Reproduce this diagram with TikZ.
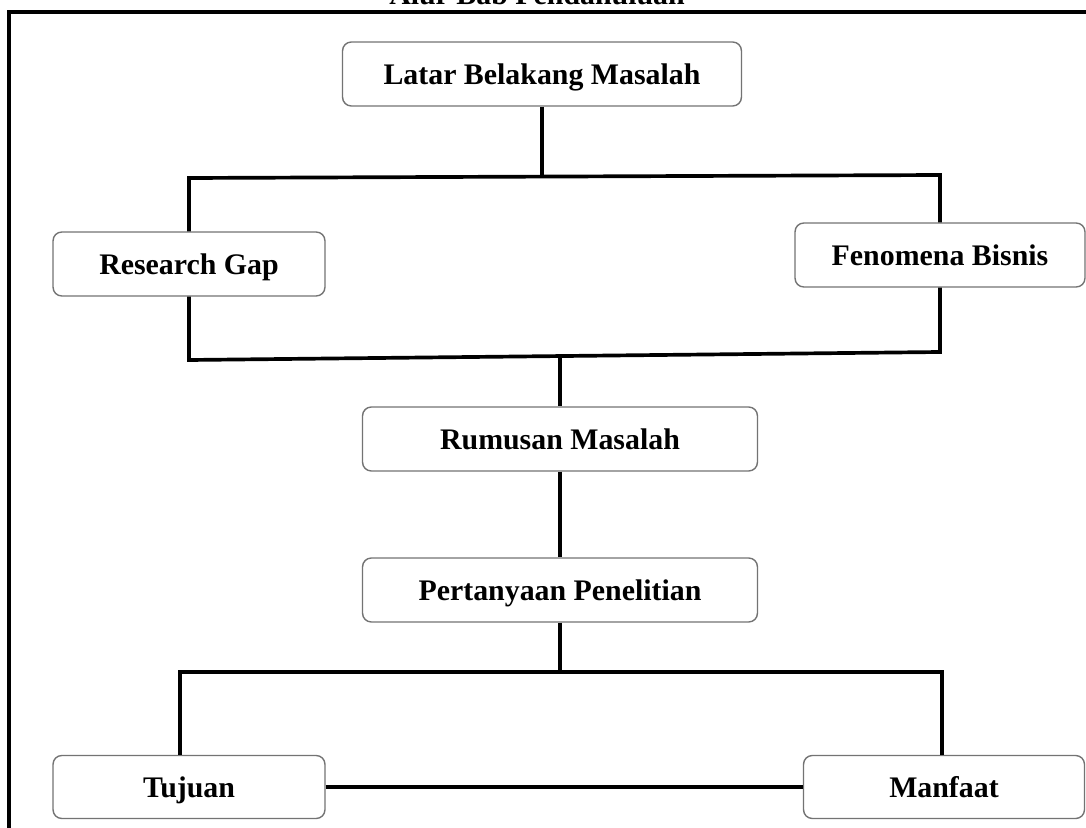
\documentclass[tikz,border=0pt]{standalone}
\usepackage{fontspec}
\setmainfont{Liberation Serif}

\tikzset{
	stage/.style={draw=black!55, line width=0.8pt, rounded corners=5pt, fill=white,
		font=\fontsize{17}{20}\selectfont\bfseries, inner sep=0pt,
		text height=16pt, text depth=3.5pt, minimum height=1.28cm},
	link/.style={line width=2.1pt}
}

\begin{document}
\begin{tikzpicture}[x=0.02cm, y=-0.02cm]
	\useasboundingbox (0, 0) rectangle (1086, 828);

	% frame and title
	\draw[line width=2.1pt] (9, 860) -- (9, 12) -- (1100, 12);
	\node[anchor=base, font=\fontsize{17}{20}\selectfont\bfseries] (title) at (537, 5) {Alur Bab Pendahuluan};

	\node[stage, minimum width=7.98cm] (latar) at (542, 74) {Latar Belakang Masalah};
	\node[stage, minimum width=5.44cm] (gap) at (189, 264) {Research Gap};
	\node[stage, minimum width=5.8cm] (fenomena) at (940, 255) {Fenomena Bisnis};
	\node[stage, minimum width=7.9cm] (rumusan) at (560, 439) {Rumusan Masalah};
	\node[stage, minimum width=7.9cm] (pertanyaan) at (560, 590) {Pertanyaan Penelitian};
	\node[stage, minimum width=5.44cm, minimum height=1.26cm] (tujuan) at (189, 787) {Tujuan};
	\node[stage, minimum width=5.62cm, minimum height=1.26cm] (manfaat) at (944, 787) {Manfaat};

	\coordinate (gapTop) at (189, 178);
	\coordinate (fenTop) at (940, 175);
	\coordinate (gapBot) at (189, 360);
	\coordinate (fenBot) at (940, 352);
	\coordinate (midBot) at (560, 356);
	\coordinate (tujTop) at (180, 672);
	\coordinate (manTop) at (942, 672);

	\draw[link] (latar.south) -- (latar.south |- gapTop);
	\draw[link] (gap.north) -- (gapTop) -- (fenTop) -- (fenomena.north);
	\draw[link] (gap.south) -- (gapBot) -- (fenBot) -- (fenomena.south);
	\draw[link] (midBot) -- (rumusan.north);
	\draw[link] (rumusan.south) -- (pertanyaan.north);
	\draw[link] (pertanyaan.south) -- (pertanyaan.south |- tujTop);
	\draw[link] (tujuan.north -| tujTop) -- (tujTop) -- (manTop) -- (manfaat.north -| manTop);
	\draw[link] (tujuan.east) -- (manfaat.west);
\end{tikzpicture}
\end{document}
